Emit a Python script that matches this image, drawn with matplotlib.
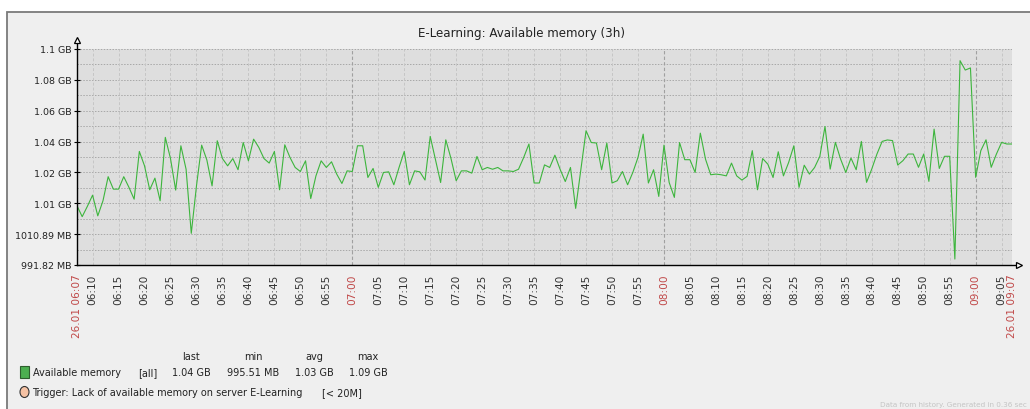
import matplotlib.pyplot as plt
import numpy as np
import pandas as pd
from matplotlib.patches import Rectangle, Ellipse

# available memory, MB, one sample per minute from 26.01 06:07
available_mb = [
    1028.4, 1021.7, 1028.1, 1035.0, 1022.2, 1031.5, 1046.4, 1038.7, 1038.7, 1046.4,
    1039.8, 1032.5, 1062.0, 1053.1, 1038.3, 1045.5, 1031.5, 1070.7, 1057.6, 1038.1,
    1065.5, 1051.0, 1011.4, 1040.7, 1065.9, 1056.7, 1040.7, 1068.6, 1057.6, 1053.1,
    1057.6, 1050.7, 1067.5, 1056.2, 1069.6, 1064.5, 1057.6, 1054.8, 1062.0, 1038.3,
    1066.1, 1058.3, 1052.1, 1049.6, 1056.2, 1032.9, 1046.9, 1056.2, 1052.1, 1055.6,
    1048.0, 1042.2, 1050.0, 1049.6, 1065.5, 1065.5, 1045.9, 1051.5, 1039.8, 1049.0,
    1049.4, 1041.4, 1052.1, 1062.0, 1041.4, 1050.0, 1049.4, 1044.3, 1071.3, 1057.2,
    1042.8, 1069.2, 1057.6, 1043.9, 1050.0, 1050.0, 1048.6, 1058.9, 1050.7, 1052.1,
    1051.0, 1052.1, 1050.0, 1050.0, 1049.6, 1051.0, 1058.3, 1066.6, 1042.5, 1042.5,
    1053.7, 1052.1, 1059.7, 1051.0, 1043.4, 1052.1, 1026.8, 1051.0, 1074.8, 1067.5,
    1067.2, 1050.7, 1067.2, 1042.5, 1043.9, 1049.6, 1041.4, 1049.0, 1058.3, 1072.7,
    1042.5, 1050.7, 1034.2, 1065.9, 1042.8, 1033.6, 1067.5, 1056.9, 1056.9, 1049.0,
    1073.3, 1057.2, 1047.6, 1048.0, 1047.6, 1046.9, 1054.8, 1046.9, 1044.3, 1046.6,
    1062.5, 1038.3, 1057.6, 1054.1, 1045.9, 1061.8, 1046.9, 1055.2, 1065.5, 1039.8,
    1053.5, 1048.0, 1052.1, 1058.9, 1077.4, 1051.1, 1067.6, 1057.3, 1049.0, 1057.9,
    1050.7, 1068.2, 1042.9, 1051.1, 1060.4, 1068.2, 1069.1, 1068.7, 1053.6, 1056.3,
    1060.4, 1060.4, 1052.2, 1060.4, 1043.5, 1075.8, 1051.5, 1059.0, 1059.0, 995.5,
    1118.1, 1112.3, 1113.6, 1046.0, 1062.5, 1069.2, 1052.2, 1060.4, 1067.6, 1066.6,
    1066.6,
]
start = '2024-01-26 06:07'

y_tick_values = [991.82, 1010.89, 1029.96, 1049.03, 1068.10, 1087.17, 1106.24, 1125.31]
y_tick_labels = ['991.82 MB', '1010.89 MB', '1.01 GB', '1.02 GB', '1.04 GB',
                 '1.06 GB', '1.08 GB', '1.1 GB']

stat_names = ['last', 'min', 'avg', 'max']
stat_values = ['1.04 GB', '995.51 MB', '1.03 GB', '1.09 GB']

W, H = 1030, 410
plt.rcParams['font.family'] = 'DejaVu Sans'
fig = plt.figure(figsize=(W / 100, H / 100), dpi=100, facecolor='white')


def fx(px):
    return px / W


def fy(py):
    return 1 - py / H


# outer frame, kept behind the axes
fig.patches.append(Rectangle((fx(7), -0.05), 1.0, fy(13) + 0.05, transform=fig.transFigure,
                             facecolor='#efefef', edgecolor='#7a7a7a', lw=1.3, zorder=-5))

ax = fig.add_axes([fx(77), fy(266), fx(1012) - fx(77), fy(50) - fy(266)])
ax.set_zorder(2)
ax.set_facecolor('#dedede')

times = pd.date_range(start, periods=len(available_mb), freq='min').to_pydatetime()
ax.plot(times, available_mb, color='#3db53d', lw=0.8, zorder=3)
ax.set_xlim(times[0], times[-1])
ax.set_ylim(y_tick_values[0], y_tick_values[-1])

# grid
for v in np.linspace(y_tick_values[0], y_tick_values[-1], 15):
    ax.axhline(v, color='#a8a8a8', lw=0.7, ls=(0, (1.5, 1.5)), zorder=1)
ticks = list(pd.date_range('2024-01-26 06:10', '2024-01-26 09:05', freq='5min').to_pydatetime())
for t in ticks:
    if t.minute == 0:
        ax.axvline(t, color='#a0a0a0', lw=0.8, ls=(0, (3, 2)), zorder=1)
    else:
        ax.axvline(t, color='#c6c6c6', lw=0.7, ls=(0, (3, 2)), zorder=1)
ax.axvline(times[-1], color='#a8a8a8', lw=0.7, ls=(0, (1.5, 1.5)), zorder=1)

for s in ax.spines.values():
    s.set_visible(False)

# axes with arrows
ax.plot([0, 0], [0, 1.035], transform=ax.transAxes, color='black', lw=1, clip_on=False, zorder=4)
ax.plot([0, 1.006], [0, 0], transform=ax.transAxes, color='black', lw=1, clip_on=False, zorder=4)
ax.plot(0, 1.04, marker='^', ms=4.5, mfc='white', mec='black', mew=0.9,
        transform=ax.transAxes, clip_on=False, zorder=5)
ax.plot(1.008, 0, marker='>', ms=4.5, mfc='white', mec='black', mew=0.9,
        transform=ax.transAxes, clip_on=False, zorder=5)

ax.set_yticks(y_tick_values, y_tick_labels)
ax.tick_params(axis='y', length=4, direction='inout', width=0.8, pad=2,
               labelsize=6.8, labelcolor='#222222')

xt = [times[0]] + ticks + [times[-1]]
xl = ['26.01 06:07'] + [t.strftime('%H:%M') for t in ticks] + ['26.01 09:07']
ax.set_xticks(xt, xl, rotation=90, va='top', ha='center')
ax.tick_params(axis='x', length=0, pad=6, labelsize=7.6)
for lab, t in zip(ax.get_xticklabels(), xt):
    if t.minute == 0 or t in (times[0], times[-1]):
        lab.set_color('#c04848')
    else:
        lab.set_color('#333333')

fig.text(fx(522), fy(33), 'E-Learning: Available memory (3h)', ha='center', va='center',
         fontsize=8.6, color='#222222')

# legend
for name, val, cx in zip(stat_names, stat_values, [191, 253, 314, 368]):
    fig.text(fx(cx), fy(357), name, ha='center', va='center', fontsize=7, color='#222222')
    fig.text(fx(cx), fy(373), val, ha='center', va='center', fontsize=7, color='#222222')

fig.patches.append(Rectangle((fx(20), fy(379)), 9 / W, 12 / H, transform=fig.transFigure,
                             facecolor='#4caf50', edgecolor='#2e5e2e', lw=0.8))
fig.text(fx(33), fy(373), 'Available memory', ha='left', va='center', fontsize=7, color='#222222')
fig.text(fx(138), fy(373), '[all]', ha='left', va='center', fontsize=7, color='#222222')

fig.patches.append(Ellipse((fx(24.5), fy(393)), 9 / W, 11 / H, transform=fig.transFigure,
                           facecolor='#f5c2a4', edgecolor='#333333', lw=0.8))
fig.text(fx(32), fy(393), 'Trigger: Lack of available memory on server E-Learning',
         ha='left', va='center', fontsize=7, color='#222222')
fig.text(fx(322), fy(393), '[< 20M]', ha='left', va='center', fontsize=7, color='#222222')

fig.text(fx(1027), fy(405), 'Data from history. Generated in 0.36 sec', ha='right', va='center',
         fontsize=5.2, color='#c4c4c4')

plt.savefig('out.png', dpi=100, facecolor='white')
